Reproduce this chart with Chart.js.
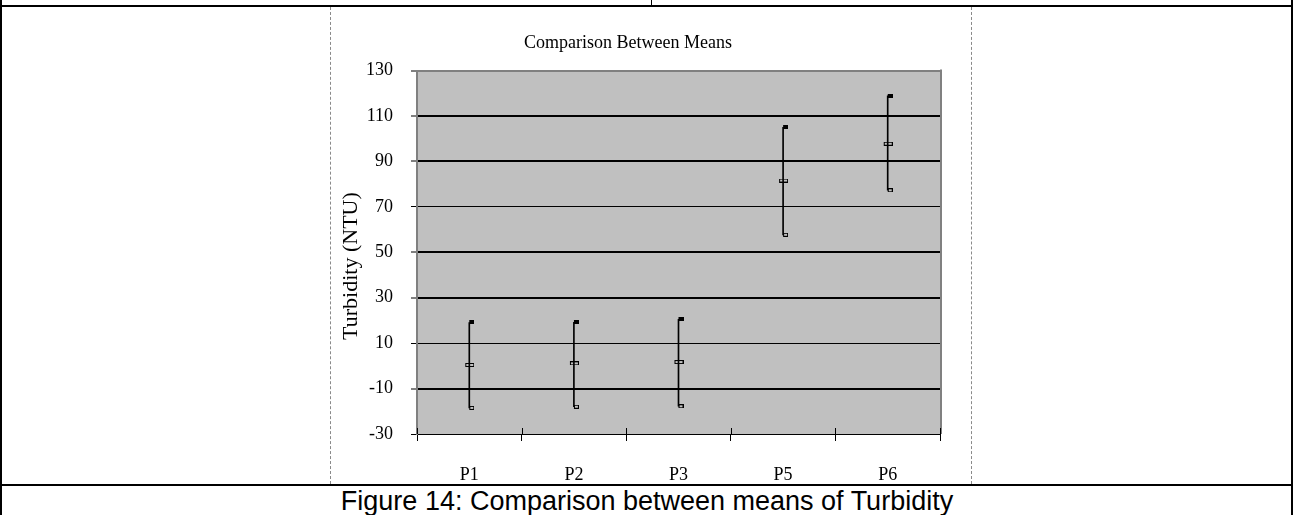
<!DOCTYPE html>
<html>
<head>
<meta charset="utf-8">
<title>Comparison Between Means</title>
<script src="https://cdn.jsdelivr.net/npm/chart.js@4.4.1/dist/chart.umd.min.js"></script>
<style>
    html, body { margin: 0; padding: 0; background: #fff; }
    body { width: 1294px; height: 515px; position: relative; overflow: hidden; }
    .rule { position: absolute; background: #000; }
    #frame {
        position: absolute; left: 330px; top: 7px; width: 642px; height: 477px;
        border-left: 1px dashed #8a8a8a; border-right: 1px dashed #8a8a8a; box-sizing: border-box;
    }
    #wrap { position: absolute; left: 316px; top: 7px; width: 634px; height: 479px; }
    #caption {
        position: absolute; left: 0; top: 486px; width: 1294px; height: 29px; line-height: 29px;
        text-align: center; color: #000;
        font: 27px "Liberation Sans", Arial, sans-serif;
    }
</style>
</head>
<body>
<!-- table lines around the figure -->
<div class="rule" style="left:0;top:0;width:2px;height:515px"></div>
<div class="rule" style="left:1291px;top:0;width:2px;height:515px"></div>
<div class="rule" style="left:0;top:5px;width:1293px;height:2px"></div>
<div class="rule" style="left:651px;top:0;width:1px;height:5px"></div>
<div class="rule" style="left:0;top:484px;width:1293px;height:2px"></div>
<div id="frame"></div>
<div id="wrap"><canvas id="meansChart" width="634" height="479"></canvas></div>
<div id="caption">Figure 14: Comparison between means of Turbidity</div>

<script>
// sampling points and turbidity (NTU): upper limit, mean, lower limit
const categories = ["P1", "P2", "P3", "P5", "P6"];
const highs = [19.1, 19.2, 20.5, 105.0, 118.9];
const means = [0.4, 1.1, 1.7, 81.6, 97.8];
const lows = [-18.5, -18.0, -17.8, 57.7, 77.3];

// y axis range and step
const yMin = -30;
const yMax = 130;
const yStep = 20;
// gridlines that come out a bit heavier
const heavyLines = [110, 90, 50, 30, -10];

const serif = "'Liberation Serif', 'Times New Roman', serif";

// small marker images: filled box (high), open bar (mean), open box (low)
const makeMarker = (draw) => {
    const c = document.createElement("canvas");
    c.width = 10;
    c.height = 4;
    const g = c.getContext("2d");
    g.strokeStyle = "#000";
    g.fillStyle = "#000";
    g.lineWidth = 1;
    draw(g);
    return c;
};
const highMark = makeMarker(g => g.fillRect(5, 0, 5, 4));
const meanMark = makeMarker(g => g.strokeRect(1.5, 0.5, 8, 3));
const lowMark = makeMarker(g => g.strokeRect(5.5, 0.5, 4, 3));

// grey plot background plus the frame on top/right
const plotFrame = {
    id: "plotFrame",
    beforeDraw(chart) {
        const { ctx, chartArea: a } = chart;
        ctx.save();
        ctx.fillStyle = "#c0c0c0";
        ctx.fillRect(a.left, a.top, a.right - a.left, a.bottom - a.top);
        ctx.restore();
    },
    afterDraw(chart) {
        const { ctx, chartArea: a } = chart;
        ctx.save();
        ctx.strokeStyle = "#808080";
        ctx.lineWidth = 2;
        ctx.beginPath();
        ctx.moveTo(a.right + 1, a.top - 1);
        ctx.lineTo(a.right + 1, a.bottom);
        ctx.stroke();

        // category ticks cross the x axis, draw the inner half here
        const xs = chart.scales.x;
        const w = (xs.right - xs.left) / categories.length;
        ctx.strokeStyle = "#000";
        ctx.lineWidth = 1;
        ctx.beginPath();
        for (let i = 0; i <= categories.length; i++) {
            const x = Math.round(xs.left + i * w) + 0.5;
            ctx.moveTo(x, a.bottom - 6);
            ctx.lineTo(x, a.bottom);
        }
        ctx.stroke();
        ctx.restore();
    }
};

new Chart(document.getElementById("meansChart"), {
    type: "bar",
    data: {
        labels: categories,
        datasets: [
            {
                type: "line",
                label: "High",
                data: highs,
                showLine: false,
                pointStyle: highMark,
                order: 0
            },
            {
                type: "line",
                label: "Mean",
                data: means,
                showLine: false,
                pointStyle: meanMark,
                order: 0
            },
            {
                type: "line",
                label: "Low",
                data: lows,
                showLine: false,
                pointStyle: lowMark,
                order: 0
            },
            {
                label: "Range",
                data: categories.map((c, i) => [lows[i], highs[i]]),
                backgroundColor: "#000",
                barThickness: 1,
                grouped: false,
                order: 1
            }
        ]
    },
    options: {
        responsive: false,
        animation: false,
        devicePixelRatio: 1,
        layout: { padding: { left: 0, right: 10, top: 0, bottom: 0 } },
        plugins: {
            legend: { display: false },
            tooltip: { enabled: false },
            title: {
                display: true,
                text: "Comparison Between Means",
                color: "#000",
                font: { family: serif, size: 18, weight: "normal", lineHeight: 1.2 },
                padding: { top: 25, bottom: 17 }
            }
        },
        scales: {
            x: {
                offset: true,
                grid: {
                    offset: true,
                    drawOnChartArea: false,
                    drawTicks: true,
                    tickLength: 7,
                    tickColor: "#000"
                },
                border: { display: true, color: "#000", width: 1 },
                ticks: {
                    color: "#000",
                    padding: 23,
                    font: { family: serif, size: 18 }
                },
                afterFit: (scale) => { scale.height = 52; }
            },
            y: {
                min: yMin,
                max: yMax,
                ticks: {
                    stepSize: yStep,
                    color: "#000",
                    padding: 18,
                    font: { family: serif, size: 18 }
                },
                grid: {
                    color: (ctx) => ctx.tick && ctx.tick.value === yMax ? "#808080" : "#000",
                    lineWidth: (ctx) => ctx.tick && (ctx.tick.value === yMax || heavyLines.includes(ctx.tick.value)) ? 2 : 1,
                    tickLength: 6,
                    tickColor: "#000",
                    tickWidth: 1
                },
                border: { display: true, color: "#808080", width: 2 },
                title: {
                    display: true,
                    text: "Turbidity (NTU)     ",
                    color: "#000",
                    font: { family: serif, size: 22, lineHeight: 1.2 },
                    padding: { top: 22, bottom: 0 }
                },
                afterFit: (scale) => { scale.width = 101; }
            }
        }
    },
    plugins: [plotFrame]
});
</script>
</body>
</html>
